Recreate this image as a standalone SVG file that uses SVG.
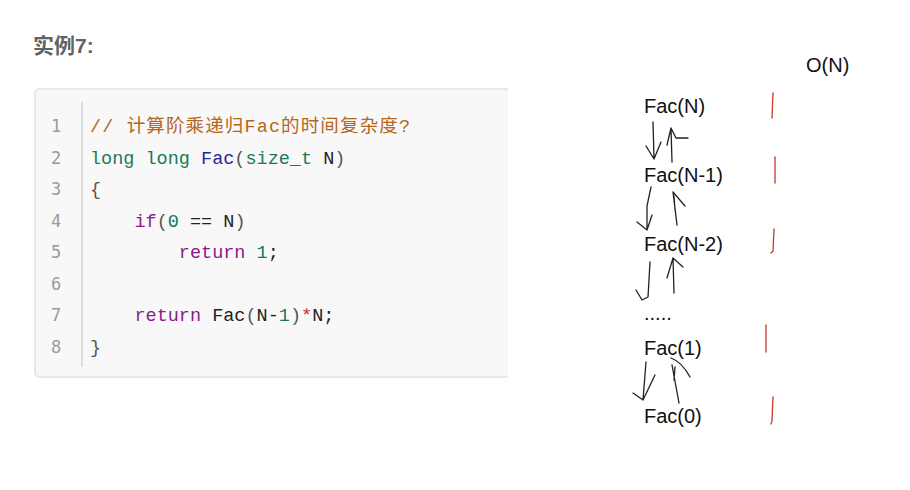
<svg xmlns="http://www.w3.org/2000/svg" width="910" height="490" viewBox="0 0 910 490">
<style>
.title{font-family:"Liberation Sans","Noto Sans CJK SC",sans-serif;font-size:21px;font-weight:bold;fill:#626262}
.ln{font-family:"DejaVu Sans Mono","Liberation Mono","Noto Sans CJK SC",monospace;font-size:17px;fill:#9a9a9a;text-anchor:middle}
.code{font-family:"Liberation Mono","DejaVu Sans Mono","Noto Sans CJK SC",monospace;font-size:18.5px;fill:#222;white-space:pre}
.cm{fill:#b5651d}.kw{fill:#1b7a58}.fn{fill:#1c2a9c}.pu{fill:#555}.ctl{fill:#8b1a8b}.num{fill:#0e7a55}.op{fill:#c0392b}
.hand{font-family:"Liberation Sans","Noto Sans",sans-serif;font-size:20px;fill:#111}
.ink{fill:none;stroke:#222;stroke-width:1.3;stroke-linecap:round;stroke-linejoin:round}
.red{fill:none;stroke:#c0392b;stroke-width:1.3;stroke-linecap:round}
</style>
<rect width="910" height="490" fill="#ffffff"/>
<g id="title"><text class="title" x="33" y="53">实例7:</text></g>
<g id="codebox">
<path d="M508 89 H40 Q35 89 35 94 V372 Q35 377 40 377 H508" fill="#f8f8f8" stroke="#e2e2e2" stroke-width="1.5"/>
<line x1="82" y1="102" x2="82" y2="367" stroke="#dcdcdc" stroke-width="2"/>
<text class="ln" x="56" y="132">1</text>
<text class="ln" x="56" y="163.5">2</text>
<text class="ln" x="56" y="195">3</text>
<text class="ln" x="56" y="226.5">4</text>
<text class="ln" x="56" y="258">5</text>
<text class="ln" x="56" y="289.5">6</text>
<text class="ln" x="56" y="321">7</text>
<text class="ln" x="56" y="352.5">8</text>
<text class="code cm" x="90" y="132" textLength="320" lengthAdjust="spacing">// 计算阶乘递归Fac的时间复杂度?</text>
<text class="code" x="90" y="163.5"><tspan class="kw">long long</tspan> <tspan class="fn">Fac</tspan><tspan class="pu">(</tspan><tspan class="kw">size_t</tspan> N<tspan class="pu">)</tspan></text>
<text class="code pu" x="90" y="195">{</text>
<text class="code" x="90" y="226.5">    <tspan class="ctl">if</tspan><tspan class="pu">(</tspan><tspan class="num">0</tspan> == N<tspan class="pu">)</tspan></text>
<text class="code" x="90" y="258">        <tspan class="ctl">return</tspan> <tspan class="num">1</tspan>;</text>
<text class="code" x="90" y="321">    <tspan class="ctl">return</tspan> Fac<tspan class="pu">(</tspan>N-<tspan class="num">1</tspan><tspan class="pu">)</tspan><tspan class="op">*</tspan>N;</text>
<text class="code pu" x="90" y="352.5">}</text>
</g>
<g id="complexity"><text class="hand" x="806" y="72">O(N)</text></g>
<g id="fac-n"><text class="hand" x="644" y="113">Fac(N)</text></g>
<g id="fac-n1"><text class="hand" x="644" y="182">Fac(N-1)</text></g>
<g id="fac-n2"><text class="hand" x="644" y="251">Fac(N-2)</text></g>
<g id="dots"><text class="hand" x="644" y="320" font-size="16">.....</text></g>
<g id="fac-1"><text class="hand" x="644" y="355">Fac(1)</text></g>
<g id="fac-0"><text class="hand" x="644" y="423">Fac(0)</text></g>
<g id="marks">
<path class="red" d="M773 93 L772 118"/>
<path class="red" d="M775 157 L775 183"/>
<path class="red" d="M774 229 L773 251 L771 253"/>
<path class="red" d="M766 325 L766 352"/>
<path class="red" d="M773 397 L772 421 L771 424"/>
</g>
<g id="connectors">
<path class="ink" d="M653 122 L654 159 M646 146 L654 159 L661 142"/>
<path class="ink" d="M672 162 L671 128 M667 145 L671 128 L676 138 L688 138"/>
<path class="ink" d="M651 187 L647 206 L647 229 M637 222 L647 230 L652 215"/>
<path class="ink" d="M677 225 L673 192 M674 196 L675 210 M673 192 L685 206"/>
<path class="ink" d="M650 262 L648 297 M636 290 L642 300 L648 297"/>
<path class="ink" d="M674 293 L673 258 M667 278 L673 258 L683 267"/>
<path class="ink" d="M646 362 L643 400 M633 393 L643 400 L655 375"/>
<path class="ink" d="M679 403 L672 365 M675 367 L674 380 M671 358 Q682 362 690 377"/>
</g>
</svg>
